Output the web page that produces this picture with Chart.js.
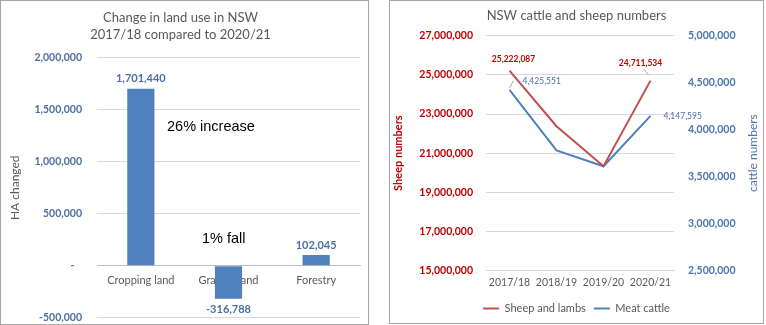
<!DOCTYPE html>
<html>
<head>
<meta charset="utf-8">
<script src="https://cdn.jsdelivr.net/npm/chart.js@4.4.1/dist/chart.umd.min.js"></script>
<style>
  html, body { margin: 0; padding: 0; background: #fff; }
  body { width: 766px; height: 325px; position: relative; overflow: hidden; }
  .box { position: absolute; box-sizing: border-box; border: 1px solid #a6a6a6; background: #fff; }
  #boxL { left: 0; top: 0; width: 369px; height: 325px; }
  #boxR { left: 389px; top: 0; width: 375px; height: 324px; }
  canvas { display: block; }
</style>
</head>
<body>
<div class="box" id="boxL"><canvas id="landChart" width="367" height="323"></canvas></div>
<div class="box" id="boxR"><canvas id="stockChart" width="373" height="322"></canvas></div>
<script>
// ---------- data ----------
const landTitle = ['Change in land use in NSW', '2017/18 compared to 2020/21'];
const landCategories = ['Cropping land', 'Grazing land', 'Forestry'];
const landChange = [1701440, -316788, 102045];
const landAxisTitle = 'HA changed';
const landNotes = ['26% increase', '1% fall'];

const stockTitle = 'NSW cattle and sheep numbers';
const years = ['2017/18', '2018/19', '2019/20', '2020/21'];
const sheepLabel = 'Sheep and lambs';
const cattleLabel = 'Meat cattle';
const sheep = [25222087, 22380000, 20330000, 24711534];
const cattle = [4425551, 3780000, 3610000, 4147595];
const sheepAxisTitle = 'Sheep numbers';
const cattleAxisTitle = 'cattle numbers';

// ---------- styling ----------
const FONT = 'Lato, "Noto Sans", sans-serif';
const BLUE_TXT = '#4e6fa3';
const BAR_BLUE = '#4f81bd';
const RED_TXT = '#c00000';
const SHEEP_RED = '#c0504d';
const CATTLE_BLUE = '#4f81bd';
const GRAY_TXT = '#595959';
const GRID = '#d9d9d9';
const fmt = v => Math.round(v).toLocaleString('en-US');

// ---------- left chart ----------
const landLabelsPlugin = {
  id: 'landLabels',
  afterDatasetsDraw(chart) {
    const ctx = chart.ctx;
    const meta = chart.getDatasetMeta(0);
    ctx.save();
    ctx.font = 'bold 11px ' + FONT;
    ctx.fillStyle = BLUE_TXT;
    ctx.textAlign = 'center';
    ctx.textBaseline = 'middle';
    meta.data.forEach((bar, i) => {
      const v = landChange[i];
      const y = v >= 0 ? bar.y - 10 : bar.y + 11;
      ctx.fillText(fmt(v), bar.x, y);
    });
    // annotations
    const ca = chart.chartArea;
    ctx.font = '14.5px "Liberation Sans", Arial, sans-serif';
    ctx.fillStyle = '#000';
    ctx.textAlign = 'left';
    ctx.fillText(landNotes[0], ca.left + 70, ca.top + 69);
    ctx.fillText(landNotes[1], ca.left + 105, ca.top + 181);
    ctx.restore();
  }
};

const LAND_TICK_PAD = 15;
new Chart(document.getElementById('landChart'), {
  type: 'bar',
  data: {
    labels: landCategories,
    datasets: [{
      data: landChange,
      backgroundColor: BAR_BLUE,
      borderWidth: 0,
      barPercentage: 0.31,
      categoryPercentage: 1.0
    }]
  },
  options: {
    responsive: false,
    animation: false,
    layout: { padding: { left: 0, right: 8, top: 0, bottom: 2 } },
    plugins: {
      legend: { display: false },
      tooltip: { enabled: false },
      title: {
        display: true,
        text: landTitle,
        color: GRAY_TXT,
        font: { family: FONT, size: 13, weight: 'normal', lineHeight: 1.3 },
        padding: { top: 8, bottom: 15 }
      }
    },
    scales: {
      x: {
        position: { y: 0 },
        grid: { display: false, drawTicks: false },
        border: { display: true, color: '#bfbfbf', width: 1 },
        ticks: { color: GRAY_TXT, font: { family: FONT, size: 11 }, padding: 8, maxRotation: 0 }
      },
      y: {
        min: -500000,
        max: 2000000,
        ticks: {
          stepSize: 500000,
          color: BLUE_TXT,
          font: { family: FONT, size: 10.5, weight: 'bold' },
          padding: LAND_TICK_PAD,
          callback: v => v === 0 ? '-   ' : fmt(v)
        },
        grid: { color: GRID, drawTicks: false },
        border: { display: false },
        title: {
          display: true,
          text: landAxisTitle,
          color: GRAY_TXT,
          font: { family: FONT, size: 12 },
          padding: { top: 7, bottom: 0 }
        },
        afterFit(scale) {
          scale.width = 96;
          scale.paddingTop -= LAND_TICK_PAD;
          scale.paddingBottom -= LAND_TICK_PAD;
        }
      }
    }
  },
  plugins: [landLabelsPlugin]
});

// ---------- right chart ----------
const stockLabelsPlugin = {
  id: 'stockLabels',
  afterDatasetsDraw(chart) {
    const ctx = chart.ctx;
    const s = chart.getDatasetMeta(0).data;
    const c = chart.getDatasetMeta(1).data;
    ctx.save();
    ctx.textBaseline = 'middle';
    // leader lines
    ctx.strokeStyle = '#a6a6a6';
    ctx.lineWidth = 1;
    ctx.beginPath();
    ctx.moveTo(c[0].x, c[0].y - 2);
    ctx.lineTo(c[0].x + 4, c[0].y - 9);
    ctx.moveTo(s[3].x - 2, s[3].y - 6);
    ctx.lineTo(s[3].x - 7, s[3].y - 12);
    ctx.stroke();
    // sheep labels
    ctx.font = 'bold 8.5px ' + FONT;
    ctx.fillStyle = RED_TXT;
    ctx.textAlign = 'center';
    ctx.fillText(fmt(sheep[0]), s[0].x + 4, s[0].y - 11);
    ctx.fillText(fmt(sheep[3]), s[3].x - 10, s[3].y - 17);
    // cattle labels
    ctx.font = '8.5px ' + FONT;
    ctx.fillStyle = '#4a6fa5';
    ctx.textAlign = 'left';
    ctx.fillText(fmt(cattle[0]), c[0].x + 13, c[0].y - 9);
    ctx.fillText(fmt(cattle[3]), c[3].x + 13, c[3].y);
    // right axis title (reads bottom-to-top)
    const r = chart.scales.y1;
    const ca = chart.chartArea;
    ctx.translate(r.right - 10, (ca.top + ca.bottom) / 2);
    ctx.rotate(-Math.PI / 2);
    ctx.font = '12px ' + FONT;
    ctx.fillStyle = '#4a76ad';
    ctx.textAlign = 'center';
    ctx.fillText(cattleAxisTitle, 0, 0);
    ctx.restore();
  }
};

new Chart(document.getElementById('stockChart'), {
  type: 'line',
  data: {
    labels: years,
    datasets: [
      {
        label: sheepLabel,
        data: sheep,
        yAxisID: 'y',
        borderColor: SHEEP_RED,
        backgroundColor: SHEEP_RED,
        borderWidth: 2,
        pointRadius: 0,
        tension: 0
      },
      {
        label: cattleLabel,
        data: cattle,
        yAxisID: 'y1',
        borderColor: CATTLE_BLUE,
        backgroundColor: CATTLE_BLUE,
        borderWidth: 2,
        pointRadius: 0,
        tension: 0
      }
    ]
  },
  options: {
    responsive: false,
    animation: false,
    layout: { padding: { left: 0, right: 0, top: 0, bottom: -1 } },
    plugins: {
      tooltip: { enabled: false },
      title: {
        display: true,
        text: stockTitle,
        color: GRAY_TXT,
        font: { family: FONT, size: 13, weight: 'normal', lineHeight: 1.3 },
        padding: { top: 6, bottom: 12 }
      },
      legend: {
        position: 'bottom',
        labels: {
          usePointStyle: true,
          pointStyle: 'line',
          pointStyleWidth: 16,
          color: GRAY_TXT,
          font: { family: FONT, size: 11 },
          padding: 8
        }
      }
    },
    scales: {
      x: {
        offset: true,
        grid: { display: false, drawTicks: false },
        border: { display: true, color: GRID },
        ticks: { color: GRAY_TXT, font: { family: FONT, size: 10.5 }, padding: 6, maxRotation: 0 }
      },
      y: {
        position: 'left',
        min: 15000000,
        max: 27000000,
        ticks: {
          stepSize: 2000000,
          color: RED_TXT,
          font: { family: FONT, size: 10.5, weight: 'bold' },
          padding: 13,
          callback: v => fmt(v)
        },
        grid: { color: GRID, drawTicks: false },
        border: { display: false },
        title: {
          display: true,
          text: sheepAxisTitle,
          color: RED_TXT,
          font: { family: FONT, size: 11, weight: 'bold' },
          padding: { top: 2, bottom: 0 }
        },
        afterFit(scale) { scale.width = 96; }
      },
      y1: {
        position: 'right',
        min: 2500000,
        max: 5000000,
        ticks: {
          stepSize: 500000,
          color: '#4a76ad',
          font: { family: FONT, size: 10.5, weight: 'bold' },
          padding: 14,
          callback: v => fmt(v)
        },
        grid: { drawOnChartArea: false, drawTicks: false },
        border: { display: false },
        afterFit(scale) { scale.width = 89; }
      }
    }
  },
  plugins: [stockLabelsPlugin]
});
</script>
</body>
</html>
